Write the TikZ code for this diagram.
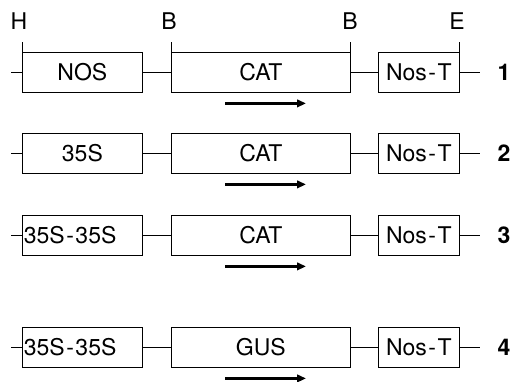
\documentclass[tikz,border=0pt]{standalone}
\usepackage{fontspec}
\setmainfont{TeX Gyre Heros}
\usetikzlibrary{arrows.meta}
\newcommand{\hy}{\kern1.5pt-\kern1.5pt}
\begin{document}
\begin{tikzpicture}[x=1pt,y=-1pt,line width=0.8pt,
  txt/.style={font=\fontsize{23}{27}\selectfont},
  seg/.style={txt,draw,minimum height=40pt,inner xsep=1.5pt,inner ysep=0pt,anchor=west},
  promoter/.style={seg,minimum width=120pt},
  gene/.style={seg,minimum width=179pt},
  term/.style={seg,minimum width=81pt},
  site/.style={txt,anchor=center},
  rowno/.style={font=\fontsize{23}{27}\selectfont\bfseries,anchor=west},
  dir/.style={line width=2.5pt,-{Triangle[length=9pt,width=7.5pt]}}]
\useasboundingbox (0,0) rectangle (511,382);

% restriction sites above construct 1
\node[site] (H)  at (19,21)  {H};
\node[site] (B1) at (169,21) {B};
\node[site] (B2) at (350,21) {B};
\node[site] (E)  at (457,21) {E};

% the four constructs: promoter -- reporter gene -- terminator
\foreach \r/\y/\pro/\gen/\al in {1/72/NOS/CAT/center, 2/153/35S/CAT/center,
                                   3/235/35S\hy35S/CAT/left, 4/347/35S\hy35S/GUS/left}{
  \coordinate (s\r) at (11,\y);
  \coordinate (e\r) at (480,\y);
  \node[promoter,text width=117pt,align=\al] (p\r) at (22,\y) {\pro};
  \node[gene] (g\r) at (171,\y) {\gen};
  \node[term] (t\r) at (378,\y) {Nos\hy T};
  \node[rowno] (n\r) at (494,\y) {\r};
  \draw (s\r) -- (p\r.west);
  \draw (p\r.east) -- (g\r.west);
  \draw (g\r.east) -- (t\r.west);
  \draw (t\r.east) -- (e\r);
  % direction of transcription
  \coordinate (a\r) at ([shift={(54,11)}]g\r.south west);
  \coordinate (b\r) at ([shift={(135,11)}]g\r.south west);
  \draw[dir] (a\r) -- (b\r);
}

% site ticks on construct 1
\draw (p1.north west) -- ++(0,-10);
\draw (g1.north west) -- ++(0,-10);
\draw (g1.north east) -- ++(0,-10);
\draw (t1.north east) -- ++(0,-10);
\end{tikzpicture}
\end{document}
